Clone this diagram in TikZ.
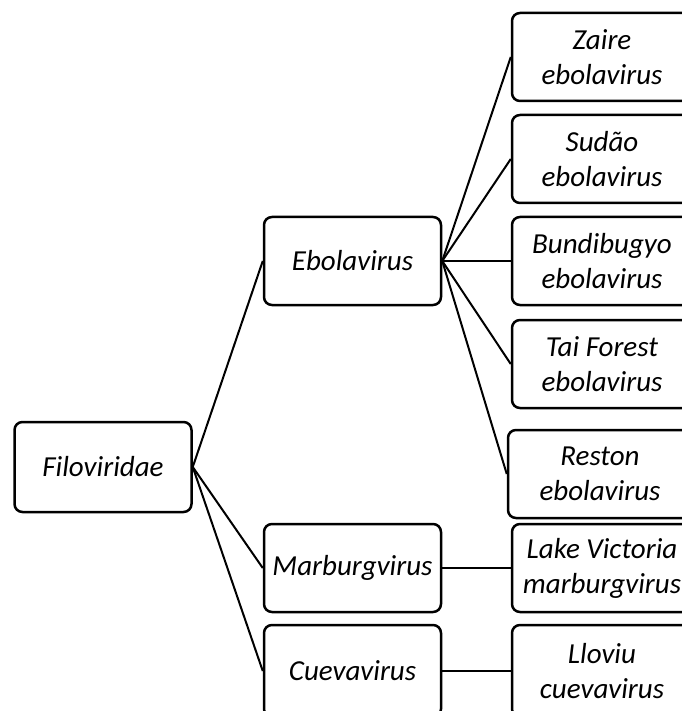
\documentclass[tikz,border=0pt]{standalone}
\usepackage{fontspec}
\setmainfont{Carlito}
\begin{document}
\begin{tikzpicture}[x=1pt, y=-1pt, line width=2pt,
		box/.style={rectangle, rounded corners=8pt, draw, line width=2.5pt, align=center,
			minimum width=177pt, minimum height=88pt, inner sep=2pt,
			font=\fontsize{29}{35}\selectfont\itshape},
		leaf/.style={box, minimum width=180pt}
		]
	\useasboundingbox (0,0) rectangle (681,711);
	\node [box, minimum height=90pt] (fil) at (103,467) {Filoviridae};
	\node [box] (ebo) at (352.5,261) {Ebolavirus};
	\node [box] (mar) at (352.5,568) {Marburgvirus};
	\node [box, minimum height=92pt] (cue) at (352.5,671) {Cuevavirus};
	\node [leaf] (zai) at (602,57) {Zaire\\ebolavirus};
	\node [leaf] (sud) at (602,159) {Sud\~ao\\ebolavirus};
	\node [leaf] (bun) at (602,261) {Bundibugyo\\ebolavirus};
	\node [leaf] (tai) at (602,364) {Tai Forest\\ebolavirus};
	\node [leaf, minimum width=184pt] (res) at (600,474) {Reston\\ebolavirus};
	\node [leaf] (lak) at (602,568) {Lake Victoria\\marburgvirus};
	\node [leaf, minimum height=92pt] (llo) at (602,671) {Lloviu\\cuevavirus};
	\foreach \g in {ebo,mar,cue}
		\draw (fil.east) -- (\g.west);
	\foreach \s in {zai,sud,bun,tai,res}
		\draw (ebo.east) -- (\s.west);
	\draw (mar.east) -- (lak.west);
	\draw (cue.east) -- (llo.west);
\end{tikzpicture}
\end{document}
